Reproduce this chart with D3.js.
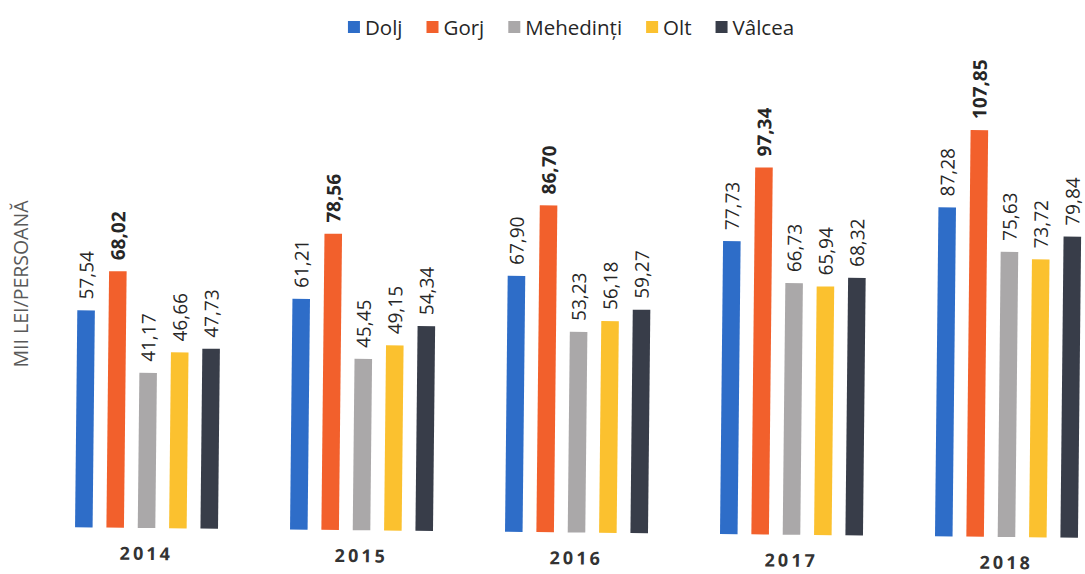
<!DOCTYPE html>
<html>
<head>
<meta charset="utf-8">
<script src="https://cdn.jsdelivr.net/npm/d3@7"></script>
<style>
  body { margin: 0; background: #fff; }
  svg { display: block; font-family: "Open Sans", sans-serif; }
</style>
</head>
<body>
<div id="chart"></div>
<script>
// date
const years = ["2014", "2015", "2016", "2017", "2018"];
const counties = ["Dolj", "Gorj", "Mehedinți", "Olt", "Vâlcea"];
const dolj = [57.54, 61.21, 67.90, 77.73, 87.28];
const gorj = [68.02, 78.56, 86.70, 97.34, 107.85];
const mehedinti = [41.17, 45.45, 53.23, 66.73, 75.63];
const olt = [46.66, 49.15, 56.18, 65.94, 73.72];
const valcea = [47.73, 54.34, 59.27, 68.32, 79.84];
const colors = ["#2e6dc8", "#f2602c", "#aaa8a9", "#fbc12f", "#383d49"];
const yTitle = "MII LEI/PERSOANĂ";

const series = [dolj, gorj, mehedinti, olt, valcea];
const rows = [];
years.forEach((yr, i) => {
    counties.forEach((c, j) => {
        rows.push({ year: yr, county: c, value: series[j][i] });
    });
});

const width = 1085, height = 574;
const base = 532.5;

const ro = d3.formatLocale({ decimal: ",", thousands: ".", grouping: [3], currency: ["", ""] });
const fmt = ro.format(".2f");

const svg = d3.select("#chart").append("svg")
    .attr("width", width)
    .attr("height", height);

const x0 = d3.scaleBand()
    .domain(years)
    .range([39, 1114])
    .paddingInner(0.335)
    .paddingOuter(0.1675);

const x1 = d3.scaleBand()
    .domain(counties)
    .range([0, x0.bandwidth()])
    .paddingInner(0.44);

const y = d3.scaleLinear()
    .domain([0, 120])
    .range([base, base - 120 * 3.77]);

const color = d3.scaleOrdinal().domain(counties).range(colors);

// scanul e putin rotit
const plot = svg.append("g")
    .attr("transform", `rotate(0.6, 576, ${base})`);

plot.selectAll("rect.bar")
    .data(rows)
    .join("rect")
    .attr("class", "bar")
    .attr("x", d => x0(d.year) + x1(d.county))
    .attr("y", d => y(d.value))
    .attr("width", x1.bandwidth())
    .attr("height", d => y(0) - y(d.value))
    .attr("fill", d => color(d.county));

plot.selectAll("text.val")
    .data(rows)
    .join("text")
    .attr("class", "val")
    .attr("transform", d => `translate(${x0(d.year) + x1(d.county) + x1.bandwidth() / 2}, ${y(d.value) - 11}) rotate(-90)`)
    .attr("dy", "0.36em")
    .attr("font-size", "19px")
    .attr("font-weight", d => d.county === "Gorj" ? "bold" : "normal")
    .attr("fill", "#262626")
    .text(d => fmt(d.value));

plot.selectAll("text.year")
    .data(years)
    .join("text")
    .attr("class", "year")
    .attr("x", d => x0(d) + x0.bandwidth() / 2)
    .attr("y", base + 32)
    .attr("text-anchor", "middle")
    .attr("font-size", "18px")
    .attr("font-weight", "bold")
    .attr("letter-spacing", "3px")
    .attr("fill", "#333")
    .text(d => d);

// titlu axa Y
svg.append("text")
    .attr("transform", "translate(28, 284) rotate(-90)")
    .attr("text-anchor", "middle")
    .attr("font-size", "19.5px")
    .attr("fill", "#595959")
    .text(yTitle);

// legenda
const legend = svg.append("g");
let lx = 0;
counties.forEach((c, i) => {
    const item = legend.append("g").attr("transform", `translate(${lx}, 0)`);
    item.append("rect")
        .attr("x", 0)
        .attr("y", 21)
        .attr("width", 12)
        .attr("height", 12)
        .attr("fill", colors[i]);
    const t = item.append("text")
        .attr("x", 17)
        .attr("y", 35)
        .attr("font-size", "20.5px")
        .attr("fill", "#262626")
        .text(c);
    lx += 17 + t.node().getComputedTextLength() + 24;
});
lx -= 24;
legend.attr("transform", `translate(${571 - lx / 2}, 0)`);
</script>
</body>
</html>
